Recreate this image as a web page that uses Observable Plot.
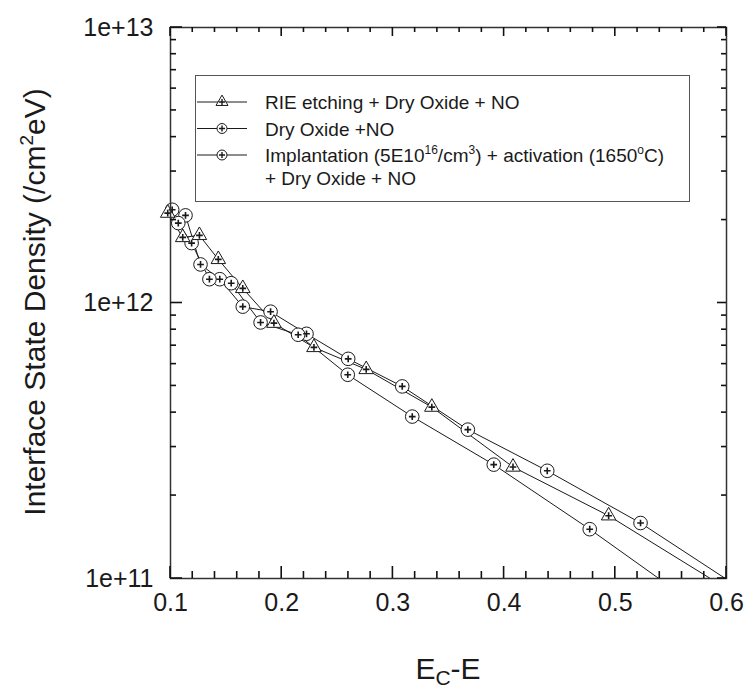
<!DOCTYPE html>
<html><head><meta charset="utf-8">
<script src="https://cdn.jsdelivr.net/npm/d3@7"></script>
<script src="https://cdn.jsdelivr.net/npm/@observablehq/plot@0.6"></script>
<style>
body{margin:0;background:#fff;}
#chart svg{display:block;}
</style></head>
<body><div id="chart"></div>
<script>
// Series 1: RIE etching + Dry Oxide + NO (triangles)
const rieX = [0.0975, 0.111, 0.126, 0.143, 0.165, 0.193, 0.229, 0.276, 0.335, 0.408, 0.494, 0.60];
const rieY = [2.12e12, 1.73e12, 1.76e12, 1.44e12, 1.13e12, 8.45e11, 6.9e11, 5.74e11, 4.19e11, 2.54e11, 1.69e11, 9.2e10];
// Series 2: Dry Oxide +NO (circles)
const dryX = [0.1015, 0.1135, 0.127, 0.1443, 0.165, 0.19, 0.2223, 0.2598, 0.3084, 0.3674, 0.4388, 0.5227, 0.62];
const dryY = [2.18e12, 2.08e12, 1.38e12, 1.22e12, 9.7e11, 9.3e11, 7.73e11, 6.27e11, 4.98e11, 3.47e11, 2.46e11, 1.59e11, 8.8e10];
// Series 3: Implantation + activation + Dry Oxide + NO (circles)
const impX = [0.107, 0.119, 0.135, 0.1546, 0.181, 0.2148, 0.2594, 0.3174, 0.3907, 0.477, 0.57];
const impY = [1.95e12, 1.65e12, 1.22e12, 1.18e12, 8.5e11, 7.67e11, 5.49e11, 3.87e11, 2.59e11, 1.51e11, 8.15e10];

const seriesNames = ["RIE etching + Dry Oxide + NO", "Dry Oxide +NO", "Implantation + activation + Dry Oxide + NO"];
const seriesShapes = ["triangle", "circle", "circle"];

// tick values
const xMajor = [0.1, 0.2, 0.3, 0.4, 0.5, 0.6];
const xMinor = [0.12,0.14,0.16,0.18,0.22,0.24,0.26,0.28,0.32,0.34,0.36,0.38,0.42,0.44,0.46,0.48,0.52,0.54,0.56,0.58];
const yMajor = [1e11, 1e12, 1e13];
const yMinor = [2e11,3e11,4e11,5e11,6e11,7e11,8e11,9e11,2e12,3e12,4e12,5e12,6e12,7e12,8e12,9e12];

const rows = [];
[[rieX, rieY], [dryX, dryY], [impX, impY]].forEach(([xs, ys], s) => {
  xs.forEach((x, i) => rows.push({series: seriesNames[s], shape: seriesShapes[s], x, y: ys[i]}));
});
const visible = rows.filter(d => d.y >= 1e11 && d.x <= 0.6);

const font = "'Liberation Sans', Arial, Helvetica, sans-serif";
const ink = "#1a1a1a";
const tk = "#111";
const W = 747, H = 690, mL = 170, mR = 21, mT = 27, mB = 112;

const chart = Plot.plot({
  width: W, height: H,
  marginLeft: mL, marginRight: mR, marginTop: mT, marginBottom: mB,
  style: {fontFamily: font, background: "#fff", color: ink},
  x: {domain: [0.1, 0.6]},
  y: {type: "log", domain: [1e11, 1e13]},
  marks: [
    Plot.line(rows, {x: "x", y: "y", z: "series", stroke: ink, strokeWidth: 1, clip: true}),
    Plot.dot(visible.filter(d => d.shape === "circle"), {x: "x", y: "y", r: 6.8, fill: "white", stroke: ink, strokeWidth: 1}),
    Plot.dot(visible.filter(d => d.shape === "triangle"), {x: "x", y: "y", symbol: "triangle", r: 5.4, fill: "white", stroke: ink, strokeWidth: 1}),
    Plot.dot(visible, {x: "x", y: "y", symbol: "plus", r: 2.3, stroke: ink, strokeWidth: 1.6}),
    Plot.axisX(xMajor, {anchor: "bottom", tickSize: 0, tickPadding: 15, fontSize: 25, label: null}),
    Plot.axisY(yMajor, {anchor: "left", tickSize: 0, tickPadding: 17, fontSize: 25, tickFormat: d => "1e+" + Math.round(Math.log10(d)), label: null}),
    Plot.frame({stroke: "#333", strokeWidth: 1.5})
  ]
});
document.getElementById("chart").appendChild(chart);

const svg = d3.select(chart);
const sx = chart.scale("x"), sy = chart.scale("y");
const fLeft = mL, fRight = W - mR, fTop = mT, fBottom = H - mB;

// inward ticks on all four sides, placed through Plot's own scales
const tg = svg.append("g").attr("stroke", tk).attr("stroke-width", 1.6).attr("fill", "none");
function drawXTicks(vals, lenB, lenT) {
  vals.forEach(v => {
    const px = sx.apply(v);
    tg.append("line").attr("x1", px).attr("x2", px).attr("y1", fBottom).attr("y2", fBottom - lenB);
    tg.append("line").attr("x1", px).attr("x2", px).attr("y1", fTop).attr("y2", fTop + lenT);
  });
}
function drawYTicks(vals, lenL, lenR) {
  vals.forEach(v => {
    const py = sy.apply(v);
    tg.append("line").attr("y1", py).attr("y2", py).attr("x1", fLeft).attr("x2", fLeft + lenL);
    tg.append("line").attr("y1", py).attr("y2", py).attr("x1", fRight).attr("x2", fRight - lenR);
  });
}
drawXTicks(xMajor, 12, 9);
drawXTicks(xMinor, 7, 5);
drawYTicks(yMajor, 12, 9);
drawYTicks(yMinor, 6, 5);

// Y axis title
const ytl = svg.append("text")
  .attr("transform", "translate(45,302) rotate(-90)")
  .attr("text-anchor", "middle")
  .attr("font-family", font).attr("font-size", 30).attr("fill", ink);
ytl.append("tspan").text("Interface State Density (/cm");
ytl.append("tspan").attr("font-size", 19).attr("dy", -12).text("2");
ytl.append("tspan").attr("dy", 12).text("eV)");

// X axis title
const xtl = svg.append("text")
  .attr("x", 448).attr("y", 679)
  .attr("text-anchor", "middle")
  .attr("font-family", font).attr("font-size", 30).attr("fill", ink);
xtl.append("tspan").text("E");
xtl.append("tspan").attr("font-size", 21).attr("dy", 6).text("C");
xtl.append("tspan").attr("dy", -6).text("-E");

// Legend
const lg = svg.append("g").attr("font-family", font).attr("font-size", 19).attr("fill", ink).attr("text-anchor", "start");
lg.append("rect").attr("x", 195.5).attr("y", 75.5).attr("width", 494).attr("height", 126)
  .attr("fill", "white").attr("stroke", "#555").attr("stroke-width", 1);
const rowsY = [102, 128.5, 155];
const sym = {
  triangle: d3.symbol(d3.symbolTriangle, 62),
  circle: d3.symbol(d3.symbolCircle, 78),
  plus: d3.symbol(d3.symbolPlus, 14)
};
seriesShapes.forEach((shape, i) => {
  const cy = rowsY[i];
  lg.append("line").attr("x1", 197).attr("x2", 247).attr("y1", cy).attr("y2", cy).attr("stroke", ink).attr("stroke-width", 1);
  lg.append("path").attr("transform", `translate(222,${cy})`).attr("d", sym[shape]())
    .attr("fill", "white").attr("stroke", ink).attr("stroke-width", 1);
  lg.append("path").attr("transform", `translate(222,${cy})`).attr("d", sym.plus())
    .attr("fill", "none").attr("stroke", ink).attr("stroke-width", 1.4);
});
lg.append("text").attr("x", 265).attr("y", rowsY[0] + 7).text(seriesNames[0]);
lg.append("text").attr("x", 265).attr("y", rowsY[1] + 7).text(seriesNames[1]);
const t3 = lg.append("text").attr("x", 265).attr("y", rowsY[2] + 7);
t3.append("tspan").text("Implantation (5E10");
t3.append("tspan").attr("font-size", 12).attr("dy", -8).text("16");
t3.append("tspan").attr("dy", 8).text("/cm");
t3.append("tspan").attr("font-size", 12).attr("dy", -8).text("3");
t3.append("tspan").attr("dy", 8).text(") + activation (1650");
t3.append("tspan").attr("font-size", 12).attr("dy", -8).text("o");
t3.append("tspan").attr("dy", 8).text("C)");
lg.append("text").attr("x", 265).attr("y", 185).text("+ Dry Oxide + NO");
</script>
</body></html>
